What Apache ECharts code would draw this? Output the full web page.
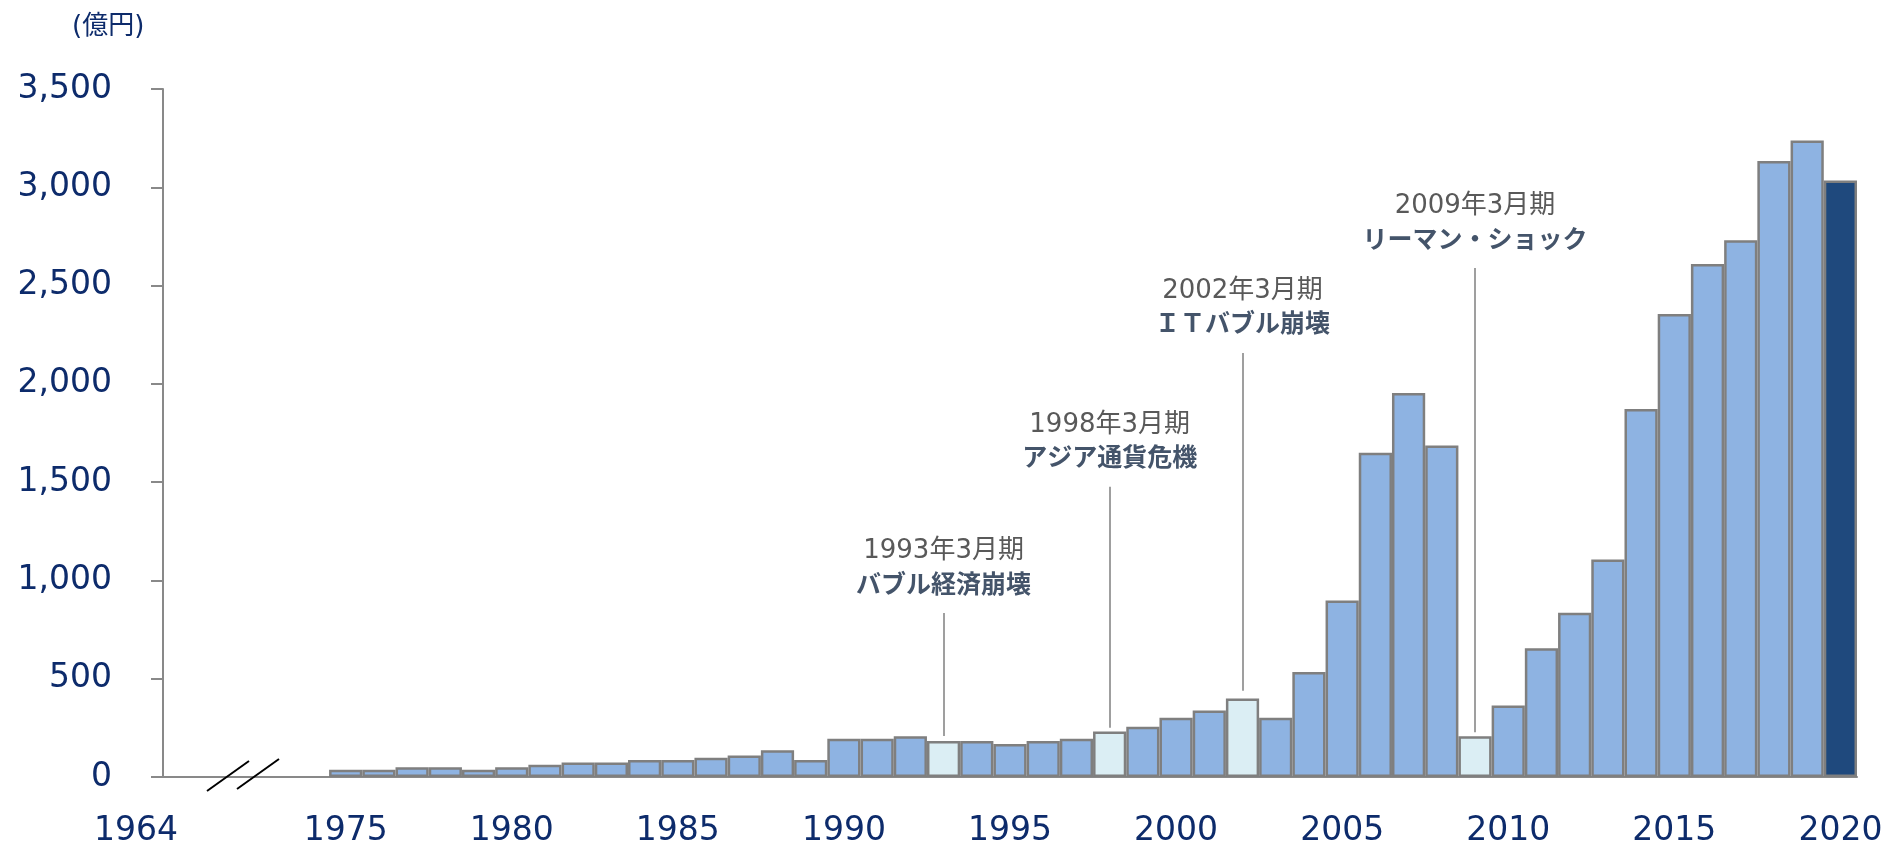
<!DOCTYPE html>
<html>
<head>
<meta charset="utf-8">
<script src="https://cdn.jsdelivr.net/npm/echarts@6/dist/echarts.min.js"></script>
<style>
html,body{margin:0;padding:0;background:#fff;}
#chart{width:1903px;height:842px;}
</style>
</head>
<body>
<div id="chart"></div>
<script>
// ---- data ----
const categories = ['1964','1971','1972','1973','1974',
  '1975','1976','1977','1978','1979','1980','1981','1982','1983','1984',
  '1985','1986','1987','1988','1989','1990','1991','1992','1993','1994',
  '1995','1996','1997','1998','1999','2000','2001','2002','2003','2004',
  '2005','2006','2007','2008','2009','2010','2011','2012','2013','2014',
  '2015','2016','2017','2018','2019','2020'];
const values = [null,null,null,null,null,
  37,37,50,50,37,50,62,74,74,86,
  86,98,110,136,86,195,195,207,183,183,
  168,183,195,231,255,302,338,399,302,534,
  898,1650,1954,1686,207,364,655,836,1106,1872,
  2356,2610,2730,3134,3238,3034];
const highlightYears = ['1993','1998','2002','2009'];
const latestYear = '2020';
const yTicks = [0,500,1000,1500,2000,2500,3000,3500];
const annYears   = ['1993','1998','2002','2009'];
const annPeriods = ['1993年3月期','1998年3月期','2002年3月期','2009年3月期'];
const annEvents  = ['バブル経済崩壊','アジア通貨危機','ＩＴバブル崩壊','リーマン・ショック'];
const annFrom    = [208, 250, 439, 228];
const annTo      = [834, 1476, 2157, 2589];
const unitLabel = '(億円)';

// ---- build ----
const barData = values.map((v, i) => {
  const c = categories[i];
  let color = '#8EB3E2';
  if (highlightYears.includes(c)) color = '#DBEEF4';
  if (c === latestYear) color = '#1F497D';
  return { value: v, itemStyle: { color } };
});

const markData = annYears.map((y, i) => {
  const lbl = {
    show: true,
    position: 'end',
    distance: 14,
    formatter: '{a|' + annPeriods[i] + '}\n{b|' + annEvents[i] + '}'
  };
  return [
    { coord: [y, annFrom[i]], label: lbl },
    { coord: [y, annTo[i]], label: lbl }
  ];
});

const chart = echarts.init(document.getElementById('chart'));
const axisColor = '#898989';
const labelColor = '#0D2B6B';

chart.setOption({
  animation: false,
  title: {
    text: unitLabel,
    left: 67, top: 9,
    textStyle: { color: labelColor, fontSize: 26, fontWeight: 'normal', fontFamily: 'DejaVu Sans, Noto Sans CJK JP' }
  },
  grid: { left: 163, right: 46, top: 89, bottom: 65, containLabel: false, outerBoundsMode: 'none' },
  xAxis: {
    type: 'category',
    data: categories,
    boundaryGap: true,
    axisLine: { lineStyle: { color: axisColor, width: 2 } },
    axisTick: { show: false },
    axisLabel: {
      interval: 0,
      margin: 38,
      color: labelColor,
      fontSize: 33,
      fontFamily: 'DejaVu Sans',
      formatter: function (v) {
        if (v === '1964') return '{s|' + v + '}';
        return (parseInt(v, 10) % 5 === 0) ? v : '';
      },
      rich: {
        s: { color: labelColor, fontSize: 33, fontFamily: 'DejaVu Sans', padding: [0, 87, 0, 0] }
      }
    }
  },
  yAxis: {
    type: 'value',
    min: yTicks[0],
    max: yTicks[yTicks.length - 1],
    interval: 500,
    splitLine: { show: false },
    axisLine: { show: true, lineStyle: { color: axisColor, width: 2 } },
    axisTick: { show: true, length: 12, lineStyle: { color: axisColor, width: 2 } },
    axisLabel: {
      margin: 51,
      color: labelColor,
      fontSize: 33,
      fontFamily: 'DejaVu Sans',
      formatter: v => v.toLocaleString('en-US')
    }
  },
  series: [{
    type: 'bar',
    data: barData,
    barCategoryGap: 0,
    barGap: 0,
    itemStyle: { borderColor: '#7F7F7F', borderWidth: 2.5 },
    emphasis: { disabled: true },
    markLine: {
      silent: true,
      symbol: 'none',
      animation: false,
      lineStyle: { color: '#7F7F7F', width: 1.5, type: 'solid' },
      label: {
        rich: {
          a: { color: '#595959', fontSize: 26, lineHeight: 32, fontFamily: 'DejaVu Sans, Noto Sans CJK JP' },
          b: { color: '#44546A', fontSize: 25, lineHeight: 32, fontWeight: 'bold', fontFamily: 'Noto Sans CJK JP' }
        }
      },
      data: markData
    }
  }]
});

// axis break marks, placed relative to the plot origin
const origin = chart.convertToPixel({ gridIndex: 0 }, [0, 0]);
const cellW = chart.convertToPixel({ xAxisIndex: 0 }, 1) - chart.convertToPixel({ xAxisIndex: 0 }, 0);
const x0 = origin[0] - cellW / 2;
const y0 = chart.convertToPixel({ yAxisIndex: 0 }, 0);
chart.setOption({
  graphic: [
    { type: 'line', shape: { x1: x0 + 44, y1: y0 + 14, x2: x0 + 86, y2: y0 - 16 }, style: { stroke: '#000', lineWidth: 2 }, z: 10 },
    { type: 'line', shape: { x1: x0 + 74, y1: y0 + 12, x2: x0 + 116, y2: y0 - 18 }, style: { stroke: '#000', lineWidth: 2 }, z: 10 }
  ]
});
</script>
</body>
</html>
